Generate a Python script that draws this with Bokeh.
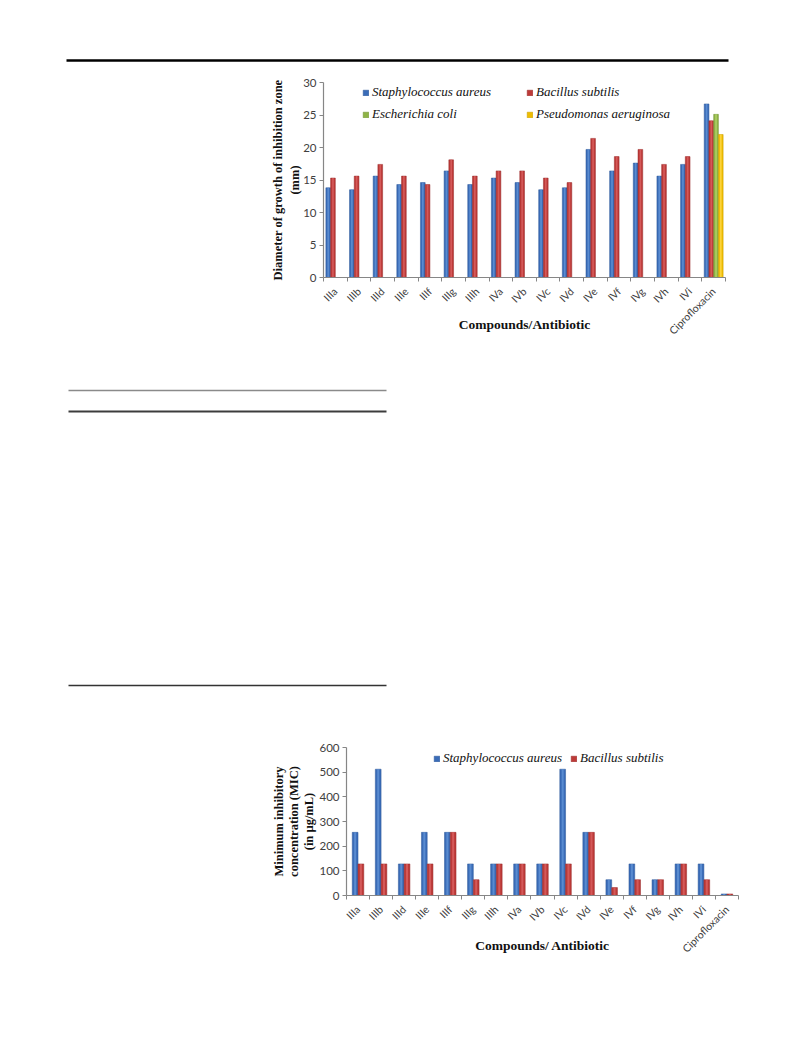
import math
import numpy as np
from bokeh.plotting import figure
from bokeh.layouts import column
from bokeh.models import FixedTicker, Legend, LegendItem, Range1d, ColumnDataSource
from bokeh.embed import file_html
from bokeh.resources import INLINE

# ---------------- data ----------------
compounds = ["IIIa", "IIIb", "IIId", "IIIe", "IIIf", "IIIg", "IIIh", "IVa", "IVb",
             "IVc", "IVd", "IVe", "IVf", "IVg", "IVh", "IVi", "Ciprofloxacin"]

zone_s_aureus = [13.8, 13.5, 15.6, 14.3, 14.6, 16.4, 14.3, 15.3, 14.6, 13.5, 13.8,
                 19.7, 16.4, 17.6, 15.6, 17.4, 26.7]
zone_b_subtilis = [15.3, 15.6, 17.4, 15.6, 14.3, 18.1, 15.6, 16.4, 16.4, 15.3, 14.6,
                   21.4, 18.6, 19.7, 17.4, 18.6, 24.1]
zone_e_coli = [None] * 16 + [25.1]
zone_p_aeruginosa = [None] * 16 + [22.0]

mic_s_aureus = [256, 512, 128, 256, 256, 128, 128, 128, 128, 512, 256, 64, 128, 64,
                128, 128, 6.25]
mic_b_subtilis = [128, 128, 128, 128, 256, 64, 128, 128, 128, 128, 256, 32, 64, 64,
                  128, 64, 6.25]

zone_ticks = [0, 5, 10, 15, 20, 25, 30]
mic_ticks = [0, 100, 200, 300, 400, 500, 600]

series1 = ["Staphylococcus aureus", "Bacillus subtilis", "Escherichia coli",
           "Pseudomonas aeruginosa"]
series2 = ["Staphylococcus aureus", "Bacillus subtilis"]

# ---------------- styles ----------------
W = 790
BLUE = ("#3a6cb8", "#6294d6", "#2c5796")
RED = ("#bd3a38", "#d96262", "#962b2a")
GREEN = ("#8fb446", "#b2d36c", "#6f8f33")
YELLOW = ("#efbd00", "#ffd84a", "#c49a00")
AXIS_C = "#868686"
TICK_C = "#404040"
SERIF = "Liberation Serif"
SANS = "Lato"

n = len(compounds)
centers = np.arange(n) + 0.5


def vals(a):
    return np.array([np.nan if v is None else v for v in a], dtype=float)


def style_axes(p, yticks, ylabel, xlabel, ylabel_size, ylabel_standoff, xlabel_standoff,
               ylabel_line_height=1.2):
    p.xaxis.ticker = FixedTicker(ticks=list(centers), minor_ticks=list(range(n + 1)))
    p.xaxis.major_label_overrides = {float(c): name for c, name in zip(centers, compounds)}
    p.xaxis.major_tick_out = 0
    p.xaxis.major_tick_in = 0
    p.xaxis.minor_tick_out = 4
    p.xaxis.minor_tick_in = 0
    p.xaxis.minor_tick_line_color = AXIS_C
    p.xaxis.major_label_orientation = math.pi / 4
    p.xaxis.major_label_standoff = 8
    p.xaxis.major_label_text_font = SANS
    p.xaxis.major_label_text_font_size = "10.5px"
    p.xaxis.major_label_text_color = TICK_C
    p.xaxis.axis_label = xlabel
    p.xaxis.axis_label_text_font = SERIF
    p.xaxis.axis_label_text_font_style = "bold"
    p.xaxis.axis_label_text_font_size = "13.5px"
    p.xaxis.axis_label_text_color = "#111111"
    p.xaxis.axis_label_standoff = xlabel_standoff

    p.yaxis.ticker = FixedTicker(ticks=yticks, minor_ticks=[])
    p.yaxis.major_tick_out = 4
    p.yaxis.major_tick_in = 0
    p.yaxis.major_tick_line_color = AXIS_C
    p.yaxis.major_label_standoff = 3
    p.yaxis.major_label_text_font = SANS
    p.yaxis.major_label_text_font_size = "11.5px"
    p.yaxis.major_label_text_color = TICK_C
    p.yaxis.axis_label = ylabel
    p.yaxis.axis_label_text_font = SERIF
    p.yaxis.axis_label_text_font_style = "bold"
    p.yaxis.axis_label_text_font_size = ylabel_size
    p.yaxis.axis_label_text_line_height = ylabel_line_height
    p.yaxis.axis_label_text_color = "#111111"
    p.yaxis.axis_label_standoff = ylabel_standoff

    for ax in (p.xaxis, p.yaxis):
        ax.axis_line_color = AXIS_C
        ax.axis_line_width = 1.2
    p.grid.visible = False
    p.outline_line_color = None


def bars(p, names, datasets, offsets, width, colors):
    items = []
    for name, d, off, (fc, hc, lc) in zip(names, datasets, offsets, colors):
        src = ColumnDataSource(dict(x=centers + off, top=vals(d)))
        r = p.vbar(x="x", top="top", bottom=0, width=width, source=src,
                   fill_color=fc, line_color=lc, line_width=0.5)
        p.vbar(x="x", top="top", bottom=0, width=width * 0.35, source=src,
               fill_color=hc, fill_alpha=0.8, line_color=None)
        items.append(LegendItem(label=name, renderers=[r]))
    return items


def blank_fig(h):
    f = figure(width=W, height=h, x_range=Range1d(0, W), y_range=Range1d(0, h),
               output_backend="svg", toolbar_location=None, min_border=0,
               x_axis_location=None, y_axis_location=None, frame_align=False)
    f.grid.visible = False
    f.outline_line_color = None
    return f


# ---------------- page rule (top) ----------------
rule = blank_fig(68)
rule.segment(x0=[66], y0=[8], x1=[728], y1=[8], line_color="#000000", line_width=2.6)

# ---------------- chart 1: zone of inhibition ----------------
p1 = figure(width=W, height=292, x_range=Range1d(0, n), y_range=Range1d(0, 30),
            output_backend="svg", toolbar_location=None, frame_align=False,
            min_border_left=323, min_border_right=W - 725, min_border_top=14,
            min_border_bottom=83)
items1 = bars(p1, series1,
              [zone_s_aureus, zone_b_subtilis, zone_e_coli, zone_p_aeruginosa],
              [-0.3, -0.1, 0.1, 0.3], 0.2, [BLUE, RED, GREEN, YELLOW])
style_axes(p1, zone_ticks, "Diameter of growth of inhibition zone\n(mm)",
           "Compounds/Antibiotic", "12.5px", -2, -27)
leg1 = Legend(items=items1, location=(39, 155), orientation="horizontal", ncols=2,
              background_fill_alpha=0, border_line_color=None, padding=0, margin=0,
              spacing=6, label_standoff=3, glyph_width=7, glyph_height=7,
              label_height=14, label_width=148,
              label_text_font=SERIF, label_text_font_style="italic",
              label_text_font_size="13px", label_text_color="#111111")
p1.add_layout(leg1)

# ---------------- table rules (middle) ----------------
table = blank_fig(370)
table.segment(x0=[68], y0=[340], x1=[386], y1=[340], line_color="#8a8a8a", line_width=1.6)
table.segment(x0=[68], y0=[319], x1=[386], y1=[319], line_color="#3c3c3c", line_width=2.0)
table.segment(x0=[68], y0=[45], x1=[386], y1=[45], line_color="#333333", line_width=1.5)

# ---------------- chart 2: MIC ----------------
p2 = figure(width=W, height=315, x_range=Range1d(0, n), y_range=Range1d(0, 600),
            output_backend="svg", toolbar_location=None, frame_align=False,
            min_border_left=346, min_border_right=W - 738, min_border_top=17,
            min_border_bottom=150)
items2 = bars(p2, series2, [mic_s_aureus, mic_b_subtilis], [-0.125, 0.125], 0.25,
              [BLUE, RED])
style_axes(p2, mic_ticks, "Minimum inhibitory\nconcentration (MIC)\n(in µg/mL)",
           "Compounds/ Antibiotic", "12.5px", 0, -24, ylabel_line_height=1.1)
leg2 = Legend(items=items2, location=(87, 129), orientation="horizontal",
              background_fill_alpha=0, border_line_color=None, padding=0, margin=0,
              spacing=8, label_standoff=3, glyph_width=7, glyph_height=7,
              label_height=14,
              label_text_font=SERIF, label_text_font_style="italic",
              label_text_font_size="13px", label_text_color="#111111")
p2.add_layout(leg2)

page = column(rule, p1, table, p2, spacing=0)
open("out.html", "w").write(file_html(page, INLINE))
